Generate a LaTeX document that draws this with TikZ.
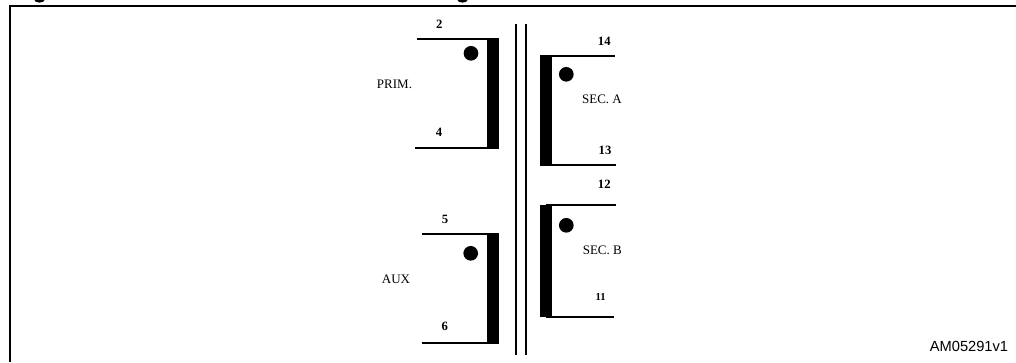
\documentclass[tikz,border=0pt]{standalone}
\usepackage{fontspec}
\setmainfont{Liberation Serif}
\newfontfamily\idfont{Liberation Sans}
\tikzset{
  x=0.75pt,y=-0.75pt,
  wire/.style={draw=black,line width=1.4pt},
  corewire/.style={draw=black,line width=1.6pt},
  framewire/.style={draw=black,line width=1.5pt},
  windingbar/.style={fill=black,draw=none,inner sep=0pt,outer sep=0pt,minimum width=9pt,anchor=center},
  phasedot/.style={circle,fill=black,draw=none,inner sep=0pt,minimum size=11pt},
  pinlabel/.style={font=\fontsize{9.5pt}{10pt}\selectfont\bfseries,inner sep=0pt},
  pinsmall/.style={font=\fontsize{8pt}{9pt}\selectfont\bfseries,inner sep=0pt},
  namelabel/.style={font=\fontsize{9.75pt}{10pt}\selectfont,inner sep=0pt},
}
\begin{document}
\begin{tikzpicture}
\useasboundingbox (0,0) rectangle (1016,362);
\clip (0,0) rectangle (1016,362);
% frame
\coordinate (fb) at (10,362);
\coordinate (fc) at (10,6);
\coordinate (fr) at (1016,6);
\draw[framewire] (fb) -- (fc) -- (fr);
% clipped remains of the caption
\fill (39.5,0) ellipse (5 and 2.6);
\fill (462.5,0) ellipse (5 and 2.6);
% core
\coordinate (c1t) at (516,23.5);
\coordinate (c1b) at (516,355);
\coordinate (c2t) at (525.7,23.5);
\coordinate (c2b) at (525.7,355);
\draw[corewire] (c1t) -- (c1b);
\draw[corewire] (c2t) -- (c2b);
% PRIM
\node[windingbar,minimum height=83.6pt] (barP) at (492.7,93.65) {};
\coordinate (p2) at (416.7,39.3);
\coordinate (p4) at (415,148);
\draw[wire] (p2) -- (p2 -| barP.center);
\draw[wire] (p4) -- (p4 -| barP.center);
\node[phasedot] (dotP) at (471,53.3) {};
\node[pinlabel] (l2) at (439.3,24.7) {2};
\node[pinlabel] (l4) at (439,132) {4};
\node[namelabel] (nP) at (394.5,84.8) {PRIM.};
% AUX
\node[windingbar,minimum height=83.6pt] (barX) at (492.7,288.7) {};
\coordinate (p5) at (421.7,234);
\coordinate (p6) at (421.7,343.4);
\draw[wire] (p5) -- (p5 -| barX.center);
\draw[wire] (p6) -- (p6 -| barX.center);
\node[phasedot] (dotX) at (470.7,253.3) {};
\node[pinlabel] (l5) at (445,219.7) {5};
\node[pinlabel] (l6) at (444.7,326.7) {6};
\node[namelabel] (nX) at (396,279.7) {AUX};
% SEC A
\node[windingbar,minimum height=83.4pt] (barA) at (545.7,110.15) {};
\coordinate (p14) at (615,55.6);
\coordinate (p13) at (616,164.7);
\draw[wire] (barA.center |- p14) -- (p14);
\draw[wire] (barA.center |- p13) -- (p13);
\node[phasedot] (dotA) at (566.3,74.3) {};
\node[pinlabel] (l14) at (604.3,41) {14};
\node[pinlabel] (l13) at (605,150) {13};
\node[namelabel] (nA) at (602,99.3) {SEC. A};
% SEC B
\node[windingbar,minimum height=84.6pt] (barB) at (545.7,260.9) {};
\coordinate (p12) at (615.7,205.2);
\coordinate (p11) at (614.3,316.6);
\draw[wire] (barB.center |- p12) -- (p12);
\draw[wire] (barB.center |- p11) -- (p11);
\node[phasedot] (dotB) at (566.3,225.3) {};
\node[pinlabel] (l12) at (604.3,184.7) {12};
\node[pinsmall] (l11) at (600.7,297) {11};
\node[namelabel] (nB) at (602.3,250.7) {SEC. B};
% drawing id
\node[font=\idfont\fontsize{11pt}{12pt}\selectfont,inner sep=0pt] (id) at (969,346.7) {AM05291v1};
\end{tikzpicture}
\end{document}
